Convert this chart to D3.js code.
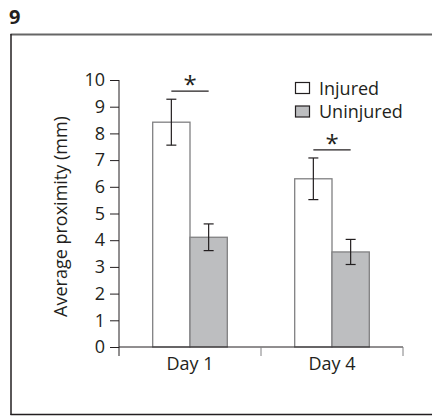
<!DOCTYPE html>
<html><head><meta charset="utf-8">
<script src="https://cdn.jsdelivr.net/npm/d3@7"></script>
<style>body{margin:0;background:#fff}svg{display:block}text{font-family:"Open Sans",sans-serif;fill:#231f20}</style>
</head><body>
<script>
const categories = ["Day 1", "Day 4"];
const seriesNames = ["Injured", "Uninjured"];
const injuredMean = [8.42, 6.3];
const injuredErr = [0.86, 0.78];
const uninjuredMean = [4.11, 3.56];
const uninjuredErr = [0.5, 0.47];
const yTicks = [0,1,2,3,4,5,6,7,8,9,10];
const sigLabel = "*";

const W = 432, H = 418, FS = 18;
const svg = d3.select("body").append("svg").attr("width", W).attr("height", H);

// frame
svg.append("line").attr("x1",10.5).attr("x2",W).attr("y1",34.5).attr("y2",34.5).attr("stroke","#666").attr("stroke-width",2);
svg.append("line").attr("x1",11).attr("x2",11).attr("y1",34).attr("y2",415).attr("stroke","#231f20").attr("stroke-width",1.5);
svg.append("line").attr("x1",10.5).attr("x2",W).attr("y1",414.5).attr("y2",414.5).attr("stroke","#231f20").attr("stroke-width",1.5);
svg.append("text").attr("x",9).attr("y",24).attr("font-size",20).attr("font-weight","bold").text("9");

const x0 = d3.scaleBand().domain(categories).range([119, 403]).padding(0);
const x1 = d3.scaleBand().domain(seriesNames).range([0, x0.bandwidth()]).paddingInner(0).paddingOuter(0.9035);
const y = d3.scaleLinear().domain([0, 10]).range([347, 80]);

const data = categories.map((c, i) => ({
  cat: c,
  vals: [
    {s: "Injured", m: injuredMean[i], e: injuredErr[i], fill: "#ffffff"},
    {s: "Uninjured", m: uninjuredMean[i], e: uninjuredErr[i], fill: "#bdbec0"}
  ]
}));

const g = svg.selectAll("g.cat").data(data).enter().append("g").attr("class","cat")
  .attr("transform", d => `translate(${x0(d.cat)},0)`);

g.selectAll("rect").data(d => d.vals).enter().append("rect")
  .attr("x", d => x1(d.s)).attr("width", x1.bandwidth())
  .attr("y", d => y(d.m)).attr("height", d => y(0) - y(d.m))
  .attr("fill", d => d.fill).attr("stroke", "#808082").attr("stroke-width", 1.3);

const eb = g.selectAll("g.eb").data(d => d.vals).enter().append("g").attr("class","eb")
  .attr("stroke","#231f20").attr("stroke-width",1.2);
eb.append("line").attr("x1", d => x1(d.s)+x1.bandwidth()/2).attr("x2", d => x1(d.s)+x1.bandwidth()/2)
  .attr("y1", d => y(d.m+d.e)).attr("y2", d => y(d.m-d.e));
eb.append("line").attr("x1", d => x1(d.s)+x1.bandwidth()/2-5).attr("x2", d => x1(d.s)+x1.bandwidth()/2+5)
  .attr("y1", d => y(d.m+d.e)).attr("y2", d => y(d.m+d.e));
eb.append("line").attr("x1", d => x1(d.s)+x1.bandwidth()/2-5).attr("x2", d => x1(d.s)+x1.bandwidth()/2+5)
  .attr("y1", d => y(d.m-d.e)).attr("y2", d => y(d.m-d.e));

// significance
g.each(function(d){
  const gg = d3.select(this);
  const top = d3.max(d.vals, v => v.m + v.e);
  const ly = y(top) - 8;
  const xa = x1("Injured")+x1.bandwidth()/2, xb = x1("Uninjured")+x1.bandwidth()/2;
  gg.append("line").attr("x1",xa).attr("x2",xb).attr("y1",ly).attr("y2",ly).attr("stroke","#231f20").attr("stroke-width",1.2);
  gg.append("text").attr("x",(xa+xb)/2).attr("y",ly+2).attr("text-anchor","middle").attr("font-size",24).text(sigLabel);
});

// y axis
const yAxis = svg.append("g").attr("transform","translate(119,0)")
  .call(d3.axisLeft(y).tickValues(yTicks).tickSize(9).tickPadding(5).tickFormat(d3.format("d")));
yAxis.select(".domain").remove();
yAxis.selectAll("line").attr("stroke","#231f20");
yAxis.selectAll("text").attr("font-size",FS).attr("font-family","'Open Sans',sans-serif").attr("fill","#231f20");
svg.append("line").attr("x1",119).attr("x2",119).attr("y1",y(10)).attr("y2",y(0)+9).attr("stroke","#231f20");

// x axis
const xAxis = svg.append("g").attr("transform",`translate(0,${y(0)})`)
  .call(d3.axisBottom(x0).tickSize(0).tickPadding(10));
xAxis.select(".domain").remove();
xAxis.selectAll("text").attr("font-size",FS).attr("font-family","'Open Sans',sans-serif").attr("fill","#231f20");
svg.append("line").attr("x1",x0.range()[0]).attr("x2",x0.range()[1]).attr("y1",y(0)).attr("y2",y(0)).attr("stroke","#231f20");
svg.selectAll("line.bt").data(categories.slice(1).map(c => x0(c)).concat([x0.range()[1]])).enter().append("line").attr("class","bt")
  .attr("x1",d=>d).attr("x2",d=>d).attr("y1",y(0)).attr("y2",y(0)+9).attr("stroke","#808082");

svg.append("text").attr("transform",`translate(67,${(y(0)+y(10))/2 + 3}) rotate(-90)`).attr("text-anchor","middle")
  .attr("font-size",FS).text("Average proximity (mm)");

// legend
const lg = svg.append("g").selectAll("g").data(seriesNames).enter().append("g")
  .attr("transform",(d,i)=>`translate(295,${82+i*23.5})`);
lg.append("rect").attr("x",0.5).attr("y",0.5).attr("width",14).attr("height",11).attr("fill",(d,i)=>i?"#bdbec0":"#fff").attr("stroke","#231f20").attr("stroke-width",1.2);
lg.append("text").attr("x",24).attr("y",12.5).attr("font-size",FS).text(d=>d);
</script>
</body></html>
